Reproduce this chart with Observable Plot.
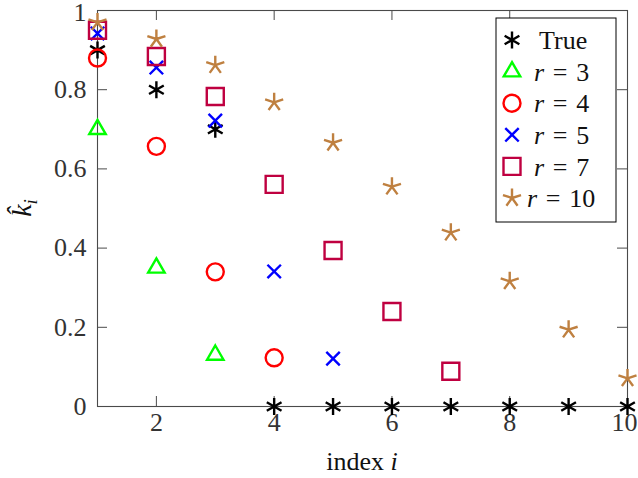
<!DOCTYPE html>
<html><head><meta charset="utf-8">
<script src="https://cdn.jsdelivr.net/npm/d3@7"></script>
<script src="https://cdn.jsdelivr.net/npm/@observablehq/plot@0.6"></script>
<style>
body{margin:0;background:#fff;overflow:hidden;}
#chart svg{font-family:"Liberation Serif",serif;overflow:visible;}
</style>
</head><body><div id="chart"></div>
<script>
// ---- data ----
const idx = [1, 2, 3, 4, 5, 6, 7, 8, 9, 10];
const kTrue = [0.90, 0.80, 0.70, 0, 0, 0, 0, 0, 0, 0];
const kR3 = [0.70, 0.35, 0.13];
const kR4 = [0.88, 0.657, 0.34, 0.123];
const kR5 = [0.942, 0.856, 0.722, 0.341, 0.121];
const kR7 = [0.95, 0.884, 0.783, 0.561, 0.394, 0.24, 0.089];
const kR10 = [0.97, 0.928, 0.862, 0.768, 0.666, 0.555, 0.439, 0.316, 0.194, 0.071];
const seriesLabels = ["True", "3", "4", "5", "7", "10"];
const seriesColors = ["#000000", "#00ff00", "#ff0000", "#0000ff", "#bf0040", "#bf8040"];
const xTicks = [2, 4, 6, 8, 10];
const yTicks = [0, 0.2, 0.4, 0.6, 0.8, 1];
const yTickLabels = ["0", "0.2", "0.4", "0.6", "0.8", "1"];

const seriesValues = [kTrue, kR3, kR4, kR5, kR7, kR10];

// ---- custom marker shapes (size = pi r^2) ----
const rad = s => Math.sqrt(s / Math.PI);
const spokes = (ctx, r, angles, through) => {
  for (const a of angles) {
    const t = a * Math.PI / 180, c = Math.cos(t), s = Math.sin(t);
    if (through) { ctx.moveTo(-r * c, r * s); } else { ctx.moveTo(0, 0); }
    ctx.lineTo(r * c, -r * s);
  }
};
const symAsterisk = {draw(ctx, size) { spokes(ctx, rad(size), [90, 30, -30], true); }};
const symTriangle = {draw(ctx, size) {
  const r = rad(size), c = Math.cos(Math.PI / 6);
  ctx.moveTo(0, -r); ctx.lineTo(r * c, r / 2); ctx.lineTo(-r * c, r / 2); ctx.closePath();
}};
const symCircle = {draw(ctx, size) { const r = rad(size); ctx.moveTo(r, 0); ctx.arc(0, 0, r, 0, 2 * Math.PI); }};
const symTimes = {draw(ctx, size) { spokes(ctx, rad(size), [45, -45], true); }};
const symSquare = {draw(ctx, size) {
  const r = rad(size);
  ctx.moveTo(-r, -r); ctx.lineTo(r, -r); ctx.lineTo(r, r); ctx.lineTo(-r, r); ctx.closePath();
}};
const symStar = {draw(ctx, size) { spokes(ctx, rad(size), [90, 162, 234, 306, 18], false); }};
const seriesSymbols = [symAsterisk, symTriangle, symCircle, symTimes, symSquare, symStar];
const seriesRadius = [8.5, 9.5, 8.5, 9.5, 8.5, 9.5];

const W = 638, H = 478, ML = 97, MR = 11, MT = 10, MB = 72;
const innerW = W - ML - MR, innerH = H - MT - MB;
const tickLen = 10;
const axisColor = "#4a4a4a";
const FS = 26;

const dotMarks = seriesValues.map((vals, i) =>
  Plot.dot(vals.map((v, j) => ({x: idx[j], y: v})), {
    x: "x", y: "y",
    symbol: seriesSymbols[i],
    r: seriesRadius[i],
    stroke: seriesColors[i],
    fill: "none",
    strokeWidth: 2.4
  })
);

const chart = Plot.plot({
  width: W, height: H,
  marginLeft: ML, marginRight: MR, marginTop: MT, marginBottom: MB,
  style: {fontFamily: "'Liberation Serif', serif", background: "#fff"},
  x: {domain: [1, 10]},
  y: {domain: [0, 1]},
  marks: [
    Plot.tickX(xTicks, {x: d => d, insetTop: innerH - tickLen, stroke: axisColor}),
    Plot.tickX(xTicks, {x: d => d, insetBottom: innerH - tickLen, stroke: axisColor}),
    Plot.tickY(yTicks, {y: d => d, insetRight: innerW - tickLen, stroke: axisColor}),
    Plot.tickY(yTicks, {y: d => d, insetLeft: innerW - tickLen, stroke: axisColor}),
    Plot.axisX({ticks: xTicks, tickSize: 0, tickPadding: 6, fontSize: FS, fill: "#333", label: null}),
    Plot.axisY({ticks: yTicks, tickFormat: d => yTickLabels[yTicks.indexOf(d)], tickSize: 0, tickPadding: 11, fontSize: FS, fill: "#333", label: null}),
    Plot.frame({stroke: axisColor, strokeWidth: 1.1}),
    ...dotMarks
  ]
});
document.getElementById("chart").appendChild(chart);

const svg = d3.select(chart);

// keep the edge tick labels inside the picture
svg.selectAll("[aria-label='x-axis tick label'] text").filter(function () { return this.textContent === "10"; }).attr("dx", -3);
svg.selectAll("[aria-label='y-axis tick label'] text").filter(function () { return this.textContent === "1"; }).attr("dy", "0.08em");

// axis labels
svg.append("text")
  .attr("x", ML + innerW / 2).attr("y", 470)
  .attr("text-anchor", "middle").attr("font-size", FS).attr("fill", "#111")
  .call(t => { t.append("tspan").text("index "); t.append("tspan").attr("font-style", "italic").text("i"); });

const yl = svg.append("text")
  .attr("transform", `translate(31,${MT + innerH / 2}) rotate(-90)`)
  .attr("text-anchor", "middle").attr("font-size", 28).attr("fill", "#111");
yl.append("tspan").attr("font-style", "italic").text("k\u0302");
yl.append("tspan").attr("font-style", "italic").attr("font-size", 19).attr("dy", 6).text("i");

// legend
const lg = svg.append("g");
const lx = 496, ly = 18, lw = 120, lh = 204;
lg.append("rect").attr("x", lx).attr("y", ly).attr("width", lw).attr("height", lh)
  .attr("fill", "#fff").attr("stroke", "#000").attr("stroke-width", 1);
seriesLabels.forEach((lab, i) => {
  const cy = 40 + i * 31.6;
  lg.append("path")
    .attr("transform", `translate(512,${cy})`)
    .attr("d", d3.symbol(seriesSymbols[i], Math.PI * seriesRadius[i] ** 2)())
    .attr("fill", "none").attr("stroke", seriesColors[i]).attr("stroke-width", 2.4);
  const t = lg.append("text").attr("y", cy).attr("dy", "0.35em").attr("font-size", 26)
    .attr("text-anchor", "start").attr("fill", "#111");
  if (i === 0) {
    t.attr("x", 539).text(lab);
  } else {
    t.attr("x", lab.length > 1 ? 527 : 534);
    t.append("tspan").attr("font-style", "italic").text("r");
    t.append("tspan").text("\u2004=\u2004" + lab);
  }
});
</script>
</body></html>
